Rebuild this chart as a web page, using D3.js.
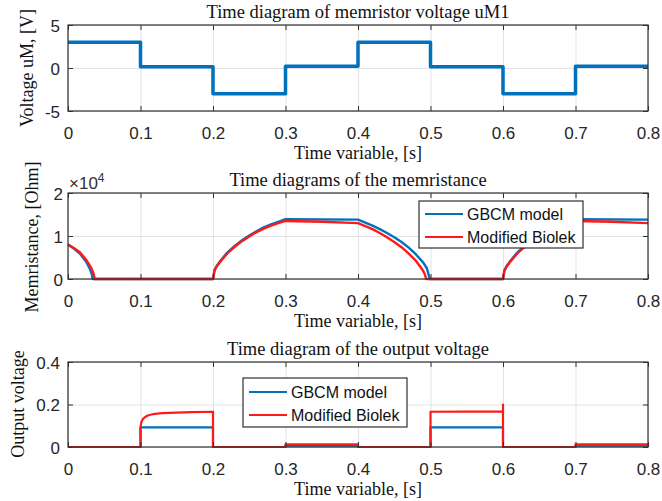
<!DOCTYPE html>
<html>
<head>
<meta charset="utf-8">
<script src="https://cdn.jsdelivr.net/npm/d3@7"></script>
<style>
  body { margin: 0; background: #fff; }
  .tick text { font-family: "Liberation Sans", Arial, sans-serif; font-size: 17px; fill: #262626; }
  .lbl { font-family: "Liberation Serif", "Times New Roman", serif; font-size: 18px; fill: #111; }
  .ttl { font-family: "Liberation Serif", "Times New Roman", serif; font-size: 18.5px; fill: #111; }
  .leg { font-family: "Liberation Sans", Arial, sans-serif; font-size: 16px; fill: #111; }
</style>
</head>
<body>
<svg id="chart" width="662" height="501"></svg>
<script>
// time axis
var timeTicks = [0, 0.1, 0.2, 0.3, 0.4, 0.5, 0.6, 0.7, 0.8];
var timeTickLabels = ["0", "0.1", "0.2", "0.3", "0.4", "0.5", "0.6", "0.7", "0.8"];

// memristor voltage uM1 [V] (step after)
var voltT = [0, 0.1, 0.2, 0.3, 0.4, 0.5, 0.6, 0.7, 0.8];
var voltV = [3, 0.15, -3, 0.2, 3, 0.15, -3, 0.2, 0.2];
var voltTicks = [-5, 0, 5];

// memristance [x10^4 Ohm]
var gbcmT = [0, 0.008, 0.016, 0.025, 0.03, 0.033, 0.034, 0.2, 0.202, 0.205, 0.21, 0.22, 0.23, 0.24, 0.25, 0.26, 0.27, 0.28, 0.29, 0.3, 0.4,
             0.41, 0.42, 0.43, 0.44, 0.45, 0.46, 0.47, 0.48, 0.49, 0.495, 0.499, 0.6, 0.602, 0.605, 0.61, 0.62, 0.63, 0.64, 0.65, 0.66, 0.67, 0.68, 0.69, 0.7, 0.8];
var gbcmR = [0.8, 0.71, 0.6, 0.4, 0.24, 0.1, 0, 0, 0.2, 0.3, 0.42, 0.62, 0.77, 0.9, 1.01, 1.11, 1.2, 1.27, 1.33, 1.39, 1.38,
             1.31, 1.24, 1.16, 1.07, 0.97, 0.86, 0.73, 0.57, 0.38, 0.25, 0, 0, 0.2, 0.3, 0.42, 0.62, 0.77, 0.9, 1.01, 1.11, 1.2, 1.27, 1.33, 1.39, 1.38];
var biolekT = [0, 0.008, 0.016, 0.025, 0.032, 0.035, 0.037, 0.2, 0.202, 0.205, 0.21, 0.22, 0.23, 0.24, 0.25, 0.26, 0.27, 0.28, 0.29, 0.3, 0.35, 0.4,
               0.41, 0.42, 0.43, 0.44, 0.45, 0.46, 0.47, 0.48, 0.488, 0.492, 0.494, 0.6, 0.602, 0.605, 0.61, 0.62, 0.63, 0.64, 0.65, 0.66, 0.67, 0.68, 0.69, 0.7, 0.75, 0.8];
var biolekR = [0.8, 0.72, 0.63, 0.45, 0.26, 0.14, 0, 0, 0.19, 0.29, 0.4, 0.6, 0.75, 0.88, 0.99, 1.09, 1.17, 1.24, 1.3, 1.35, 1.33, 1.3,
               1.23, 1.16, 1.07, 0.97, 0.86, 0.74, 0.59, 0.42, 0.24, 0.12, 0, 0, 0.19, 0.29, 0.4, 0.6, 0.75, 0.88, 0.99, 1.09, 1.17, 1.24, 1.3, 1.35, 1.33, 1.3];
var memTicks = [0, 1, 2];

// output voltage
var gbcmOutT = [0, 0.1, 0.1, 0.2, 0.2, 0.3, 0.3, 0.4, 0.4, 0.5, 0.5, 0.6, 0.6, 0.7, 0.7, 0.8];
var gbcmOutV = [0, 0, 0.092, 0.092, 0, 0, 0.006, 0.006, 0, 0, 0.092, 0.092, 0, 0, 0.006, 0.006];
var biolekOutT = [0, 0.1, 0.1, 0.101, 0.103, 0.106, 0.11, 0.115, 0.12, 0.13, 0.14, 0.15, 0.17, 0.2, 0.2, 0.3, 0.3, 0.4, 0.4, 0.5, 0.5, 0.6, 0.6, 0.6, 0.7, 0.7, 0.8];
var biolekOutV = [0, 0, 0.09, 0.115, 0.13, 0.14, 0.148, 0.153, 0.156, 0.159, 0.161, 0.162, 0.164, 0.166, 0, 0, 0.013, 0.013, 0, 0, 0.166, 0.168, 0.2, 0, 0, 0.012, 0.012];
var outTicks = [0, 0.2, 0.4];
var outTickLabels = ["0", "0.2", "0.4"];

var seriesNames = ["GBCM model", "Modified Biolek"];
var blue = "#0072BD", red = "#FF1A1A";

var svg = d3.select("#chart");
var left = 68, right = 648;

var x = d3.scaleLinear().domain([0, 0.8]).range([left, right]);

function pts(ts, vs) {
	return ts.map(function (t, i) { return { t: t, v: vs[i] }; });
}

// box grid of one panel
function drawPanel(p) {
	var y = d3.scaleLinear().domain(p.domain).range([p.bottom, p.top]);
	var h = p.bottom - p.top;
	var g = svg.append("g");

	// grid
	g.append("g")
	    .attr("transform", "translate(0," + p.bottom + ")")
	    .call(d3.axisBottom(x).tickValues(timeTicks).tickSize(-h).tickFormat(""))
	    .call(function (s) { s.select(".domain").remove(); s.selectAll("line").attr("stroke", "#e3e3e3"); });
	g.append("g")
	    .attr("transform", "translate(" + left + ",0)")
	    .call(d3.axisLeft(y).tickValues(p.ticks).tickSize(-(right - left)).tickFormat(""))
	    .call(function (s) { s.select(".domain").remove(); s.selectAll("line").attr("stroke", "#e3e3e3"); });

	p.g = g;
	p.y = y;
	return p;
}

// axes, box and texts on top of the lines
function finishPanel(p) {
	var g = p.g, y = p.y;
	g.append("rect")
	    .attr("x", left).attr("y", p.top)
	    .attr("width", right - left).attr("height", p.bottom - p.top)
	    .attr("fill", "none").attr("stroke", "#303030").attr("stroke-width", 1.2);

	var ax = g.append("g")
	    .attr("transform", "translate(0," + p.bottom + ")")
	    .call(d3.axisBottom(x).tickValues(timeTicks).tickSizeInner(-5).tickSizeOuter(0).tickPadding(16)
	        .tickFormat(function (d, i) { return timeTickLabels[i]; }));
	ax.select(".domain").remove();
	ax.selectAll("line").attr("stroke", "#303030");

	svg.append("g")
	    .attr("transform", "translate(0," + p.top + ")")
	    .call(d3.axisTop(x).tickValues(timeTicks).tickSizeInner(-5).tickSizeOuter(0).tickFormat(""))
	    .call(function (s) { s.select(".domain").remove(); s.selectAll("line").attr("stroke", "#303030"); });

	var ay = g.append("g")
	    .attr("transform", "translate(" + left + ",0)")
	    .call(d3.axisLeft(y).tickValues(p.ticks).tickSizeInner(-5).tickSizeOuter(0).tickPadding(p.pad)
	        .tickFormat(function (d, i) { return p.tickLabels[i]; }));
	ay.select(".domain").remove();
	ay.selectAll("line").attr("stroke", "#303030");
	ay.selectAll("text").attr("dy", "0.36em");

	svg.append("g")
	    .attr("transform", "translate(" + right + ",0)")
	    .call(d3.axisRight(y).tickValues(p.ticks).tickSizeInner(-5).tickSizeOuter(0).tickFormat(""))
	    .call(function (s) { s.select(".domain").remove(); s.selectAll("line").attr("stroke", "#303030"); });

	// title, axis labels
	svg.append("text").attr("class", "ttl")
	    .attr("x", (left + right) / 2).attr("y", p.top - 7)
	    .attr("text-anchor", "middle").text(p.title);
	svg.append("text").attr("class", "lbl")
	    .attr("x", (left + right) / 2).attr("y", p.bottom + 48)
	    .attr("text-anchor", "middle").text("Time variable, [s]");
	svg.append("text").attr("class", "lbl")
	    .attr("transform", "translate(" + p.labelX + "," + p.labelY + ") rotate(-90)")
	    .attr("text-anchor", "middle").text(p.ylabel);
}

function drawLine(p, data, color, w) {
	var line = d3.line().x(function (d) { return x(d.t); }).y(function (d) { return p.y(d.v); });
	p.g.append("path").datum(data)
	    .attr("d", line.curve(p.step ? d3.curveStepAfter : d3.curveLinear))
	    .attr("fill", "none").attr("stroke", color).attr("stroke-width", w)
	    .attr("stroke-linejoin", "round");
}

function drawLegend(x0, y0, w, h, rowY) {
	var lg = svg.append("g");
	lg.append("rect").attr("x", x0).attr("y", y0).attr("width", w).attr("height", h)
	    .attr("fill", "#fff").attr("stroke", "#303030").attr("stroke-width", 1.2);
	[blue, red].forEach(function (c, i) {
		var yy = y0 + rowY[i];
		lg.append("line").attr("x1", x0 + 6).attr("x2", x0 + 44).attr("y1", yy).attr("y2", yy)
		    .attr("stroke", c).attr("stroke-width", 2.2);
		lg.append("text").attr("class", "leg").attr("x", x0 + 48).attr("y", yy).attr("dy", "0.36em")
		    .text(seriesNames[i]);
	});
}

// panel 1
var p1 = drawPanel({ top: 25, bottom: 111, domain: [-5, 5], ticks: voltTicks, tickLabels: ["-5", "0", "5"], pad: 8,
	title: "Time diagram of memristor voltage uM1", ylabel: "Voltage uM, [V]", labelX: 33, labelY: 68, step: true });
drawLine(p1, pts(voltT, voltV), blue, 3.5);
finishPanel(p1);

// panel 2
var p2 = drawPanel({ top: 193, bottom: 279, domain: [0, 2], ticks: memTicks, tickLabels: ["0", "1", "2"], pad: 5,
	title: "Time diagrams of the memristance", ylabel: "Memristance, [Ohm]", labelX: 38, labelY: 237 });
drawLine(p2, pts(gbcmT, gbcmR), blue, 2.4);
drawLine(p2, pts(biolekT, biolekR), red, 2.4);
finishPanel(p2);
var ex = svg.append("text").attr("class", "leg").attr("x", 69).attr("y", 189).style("fill", "#303030").style("font-size", "17px");
ex.append("tspan").text("\u00d710");
ex.append("tspan").attr("dy", -7).style("font-size", "12px").text("4");
drawLegend(419, 201, 164, 47, [13, 36]);

// panel 3
var p3 = drawPanel({ top: 362, bottom: 447, domain: [0, 0.4], ticks: outTicks, tickLabels: outTickLabels, pad: 8,
	title: "Time diagram of the output voltage", ylabel: "Output voltage", labelX: 24, labelY: 404 });
drawLine(p3, pts(gbcmOutT, gbcmOutV), blue, 2.2);
drawLine(p3, pts(biolekOutT, biolekOutV), red, 2.2);
finishPanel(p3);
drawLegend(243, 378, 164, 49, [14, 37]);
</script>
</body>
</html>
